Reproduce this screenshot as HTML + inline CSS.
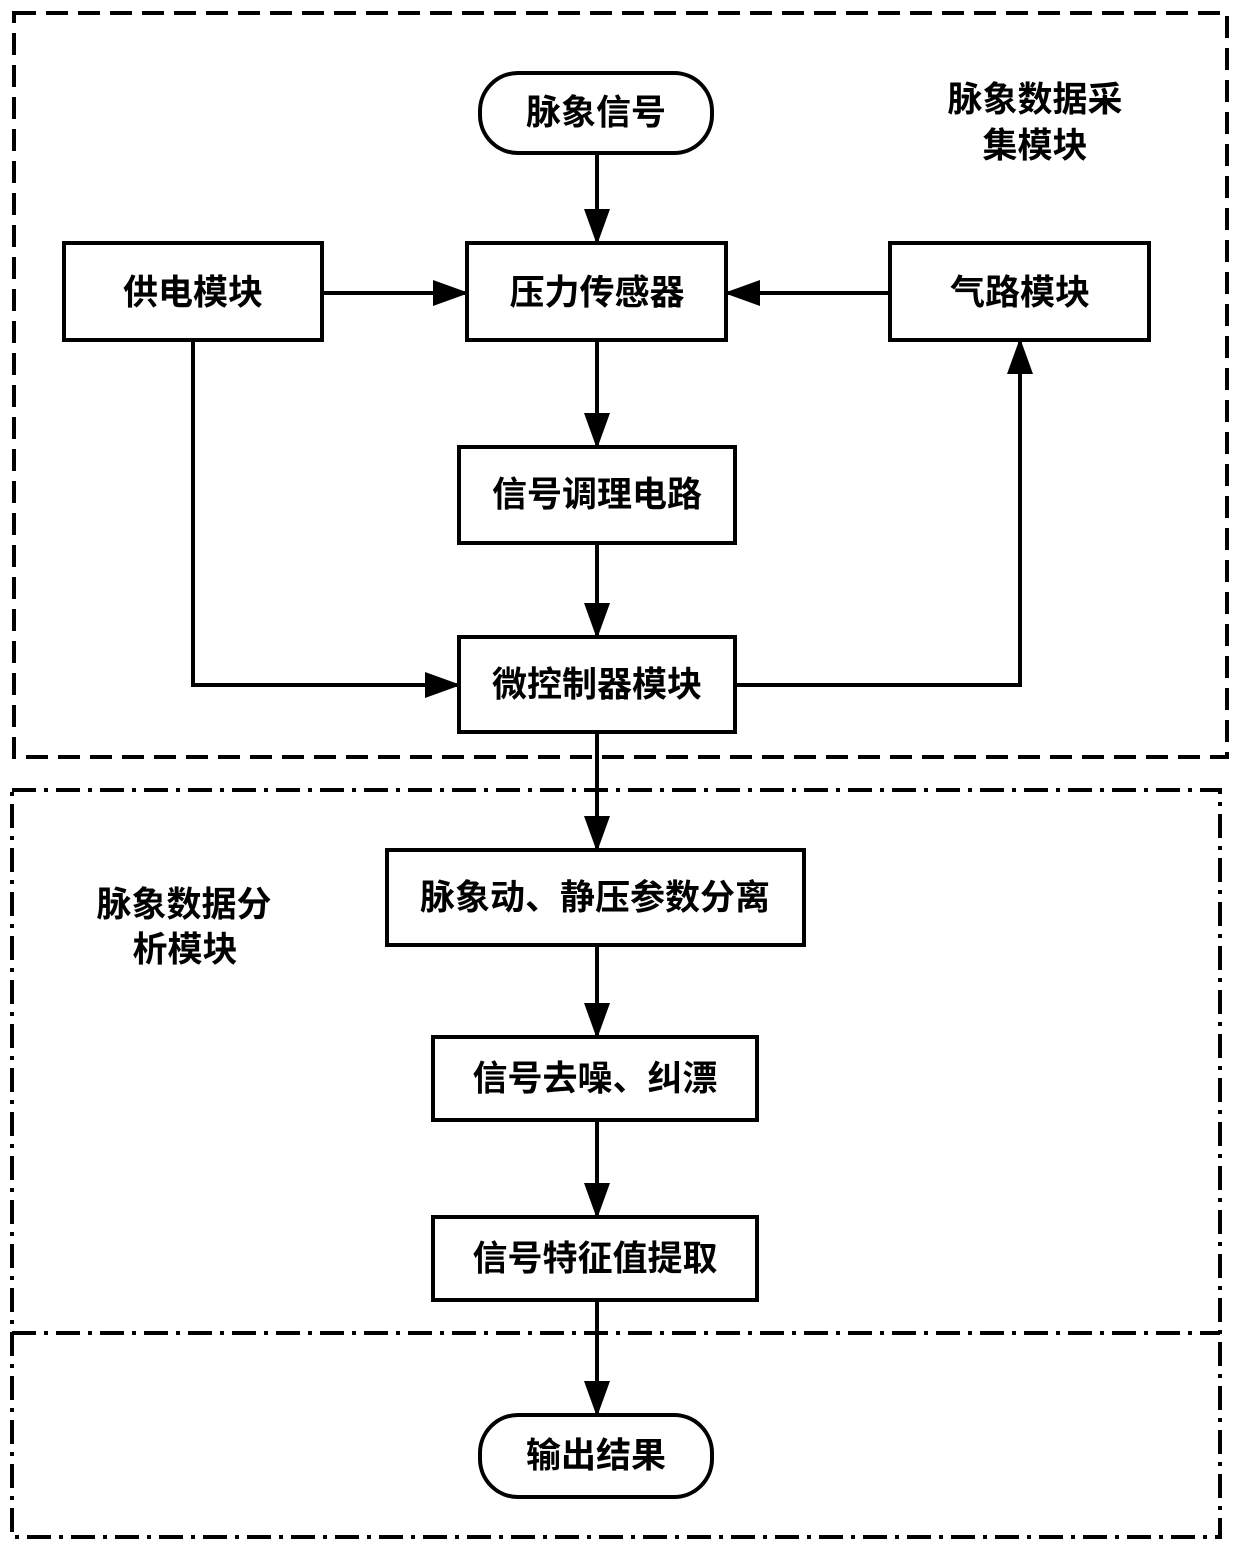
<!DOCTYPE html>
<html><head><meta charset="utf-8"><style>
html,body{margin:0;padding:0;background:#fff}
svg text{font-family:"Liberation Sans","Noto Sans CJK SC","WenQuanYi Zen Hei",sans-serif;font-weight:bold;font-size:35px;fill:#000}
</style></head><body>
<svg width="1240" height="1551" viewBox="0 0 1240 1551" xmlns="http://www.w3.org/2000/svg">
<defs>
<marker id="a" markerUnits="userSpaceOnUse" markerWidth="36" markerHeight="26" refX="34" refY="13" orient="auto">
<path d="M0,0 L36,13 L0,26 Z" fill="#000"/>
</marker>
</defs>
<g fill="none" stroke="#000" stroke-width="4">
<rect x="14" y="13" width="1213" height="744" stroke-dasharray="22,10"/>
<rect x="12" y="790" width="1208" height="747" stroke-dasharray="24,8,4,8"/>
<line x1="12" y1="1333" x2="1220" y2="1333" stroke-dasharray="24,8,4,8"/>
</g>
<g fill="#fff" stroke="#000" stroke-width="4">
<rect x="480" y="73" width="232" height="80" rx="38"/>
<rect x="64" y="243" width="258" height="97"/>
<rect x="467" y="243" width="259" height="97"/>
<rect x="890" y="243" width="259" height="97"/>
<rect x="459" y="447" width="276" height="96"/>
<rect x="459" y="637" width="276" height="95"/>
<rect x="387" y="850" width="417" height="95"/>
<rect x="433" y="1037" width="324" height="83"/>
<rect x="433" y="1217" width="324" height="83"/>
<rect x="480" y="1415" width="232" height="82" rx="38"/>
</g>
<g fill="none" stroke="#000" stroke-width="4" marker-end="url(#a)">
<line x1="597" y1="153" x2="597" y2="243"/>
<line x1="322" y1="293" x2="467" y2="293"/>
<line x1="890" y1="293" x2="726" y2="293"/>
<line x1="597" y1="340" x2="597" y2="447"/>
<line x1="597" y1="543" x2="597" y2="637"/>
<polyline points="193,340 193,685 459,685"/>
<polyline points="735,685 1020,685 1020,340"/>
<line x1="597" y1="732" x2="597" y2="850"/>
<line x1="597" y1="945" x2="597" y2="1037"/>
<line x1="597" y1="1120" x2="597" y2="1217"/>
<line x1="597" y1="1300" x2="597" y2="1415"/>
</g>
<g text-anchor="middle" dominant-baseline="central">
<text x="596" y="113">脉象信号</text>
<text x="193" y="293">供电模块</text>
<text x="597" y="293">压力传感器</text>
<text x="1020" y="293">气路模块</text>
<text x="597" y="495">信号调理电路</text>
<text x="597" y="685">微控制器模块</text>
<text x="595" y="898">脉象动、静压参数分离</text>
<text x="595" y="1079">信号去噪、纠漂</text>
<text x="595" y="1259">信号特征值提取</text>
<text x="596" y="1456">输出结果</text>
<text x="1035" y="100">脉象数据采</text>
<text x="1035" y="146">集模块</text>
<text x="184" y="905">脉象数据分</text>
<text x="185" y="950">析模块</text>
</g>
</svg>
</body></html>
